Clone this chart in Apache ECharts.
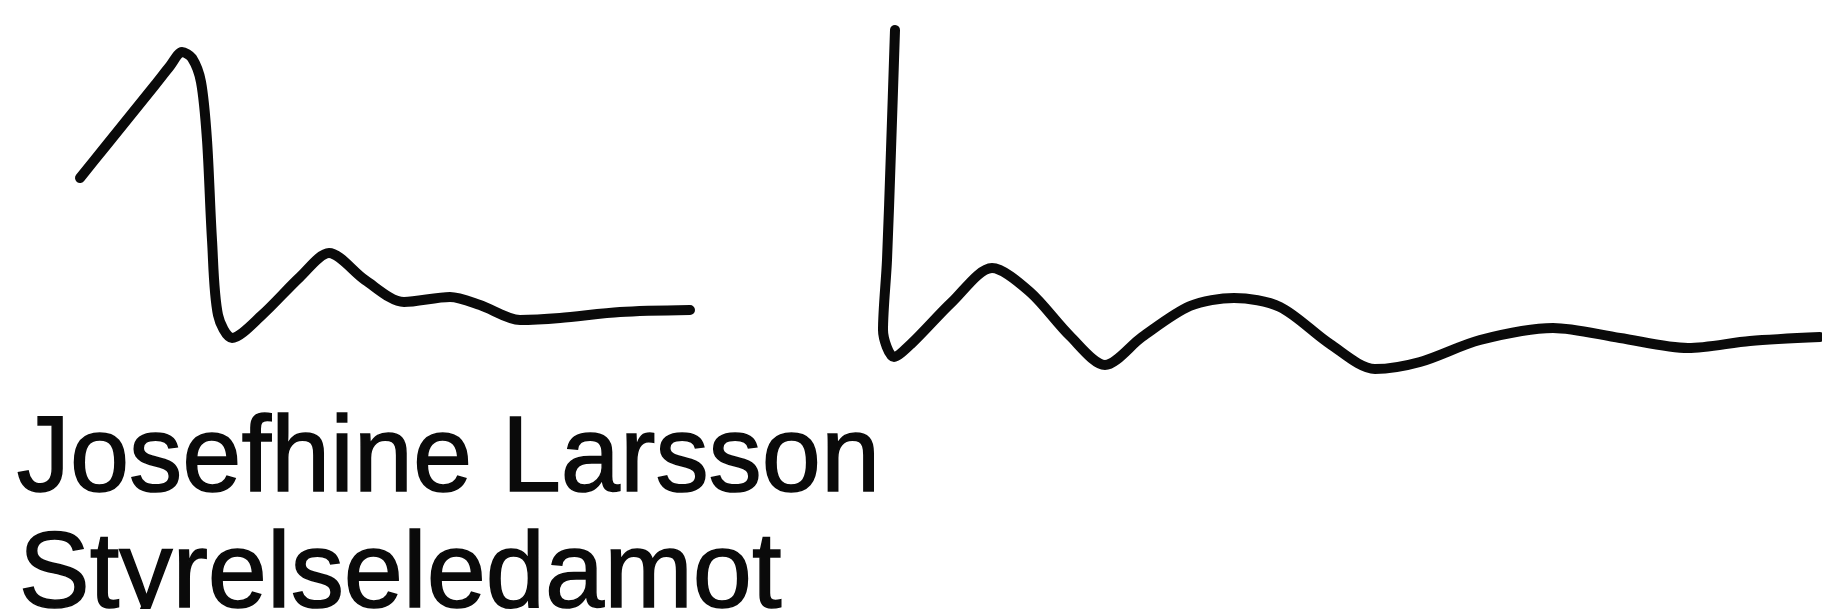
<!DOCTYPE html>
<html>
<head>
<meta charset="utf-8">
<title>Josefhine Larsson</title>
<script src="https://cdn.jsdelivr.net/npm/echarts@6/dist/echarts.min.js"></script>
<style>
  html, body { margin: 0; padding: 0; background: #fff; }
  #chart { width: 1822px; height: 609px; }
</style>
</head>
<body>
<div id="chart"></div>
<script>
// left stroke: [x, y] (y grows downward)
const strokeLeft = [
  [80, 178], [105, 147], [130, 116], [155, 85], [170, 66], [182, 52],
  [192, 58], [201, 82], [207, 140], [212, 240], [218, 315], [232, 338],
  [262, 315], [300, 277], [329, 253], [365, 280], [404, 302], [450, 297],
  [480, 305], [520, 320], [560, 318], [620, 312], [690, 310]
]

// right stroke
const strokeRight = [
  [895, 30], [891, 150], [887, 260], [883, 330], [894, 357], [912, 343],
  [952, 302], [992, 268], [1030, 292], [1070, 336], [1105, 365], [1142, 337],
  [1190, 306], [1234, 298], [1280, 307], [1330, 344], [1375, 369], [1420, 362],
  [1480, 340], [1553, 328], [1620, 338], [1688, 348], [1750, 341], [1820, 337]
]

const nameLines = ["Josefhine Larsson", "Styrelseledamot"]

const chart = echarts.init(document.getElementById("chart"))

const ink = "#0a0a0a"
const lineStyle = { color: ink, width: 10, cap: "round", join: "round" }
const textFont = "108px 'Liberation Sans', Arial, sans-serif"

chart.setOption({
  backgroundColor: "#ffffff",
  animation: false,
  grid: { left: 0, right: 0, top: 0, bottom: 0 },
  xAxis: { type: "value", min: 0, max: 1822, show: false },
  yAxis: { type: "value", min: 0, max: 609, inverse: true, show: false },
  series: [
    { type: "line", data: strokeLeft, smooth: 0.3, showSymbol: false, lineStyle },
    { type: "line", data: strokeRight, smooth: 0.3, showSymbol: false, lineStyle }
  ],
  graphic: [
    {
      type: "text", left: 16, top: 406, scaleX: 0.985,
      style: { text: nameLines[0], font: textFont, fill: ink, stroke: ink, lineWidth: 1.5 }
    },
    {
      type: "text", left: 18, top: 522, scaleX: 0.985,
      style: { text: nameLines[1], font: textFont, fill: ink, stroke: ink, lineWidth: 1.5 }
    }
  ]
})
</script>
</body>
</html>
